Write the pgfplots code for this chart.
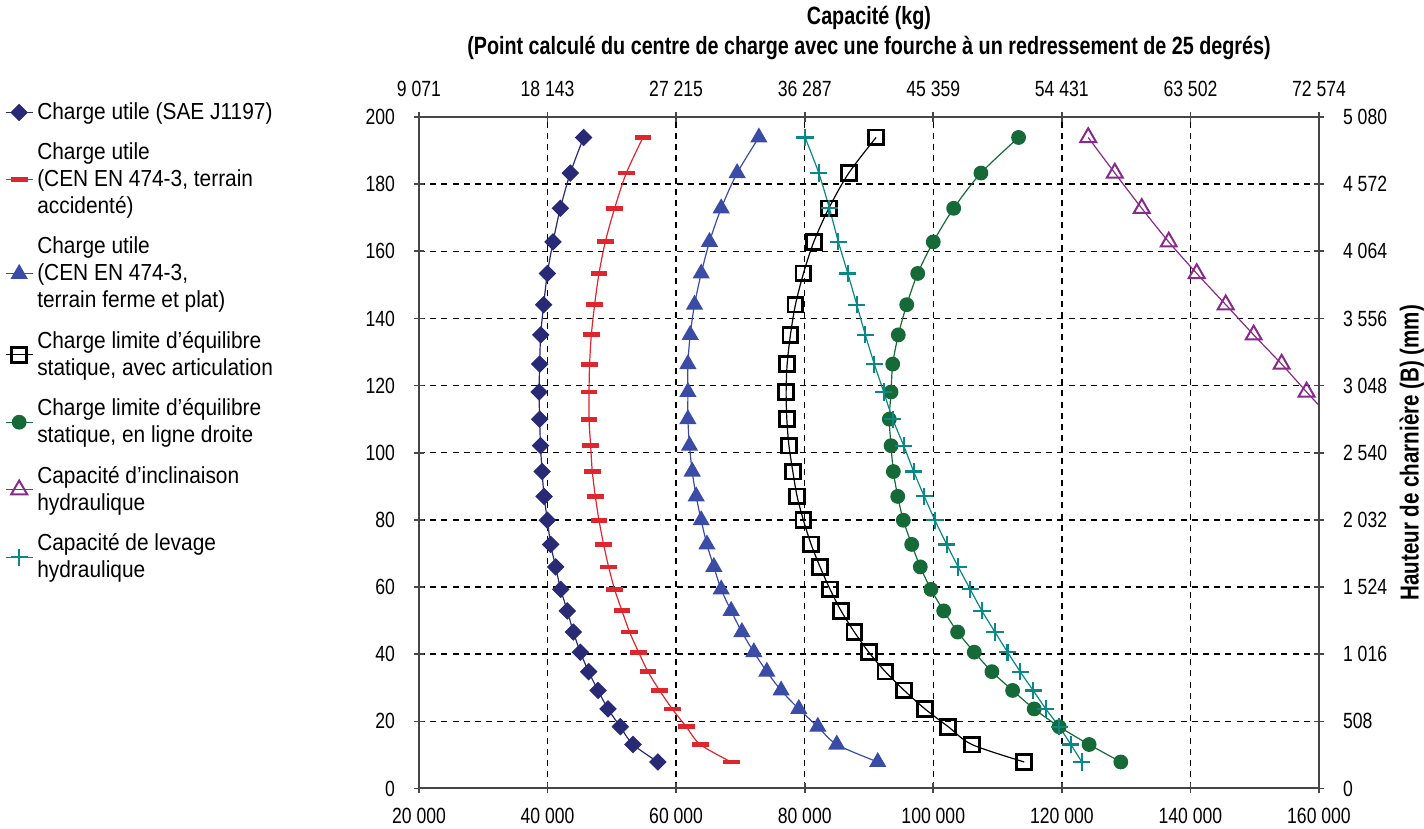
\documentclass[border=0pt]{standalone}
\usepackage{pgfplots}
\pgfplotsset{compat=1.18}
\usepackage{pgfplotstable}
\usepackage{fontspec}
\setmainfont{Liberation Sans}
\newfontfamily\legfont[FakeStretch=0.9]{Liberation Sans}
\newfontfamily\condfont[FakeStretch=0.8]{Liberation Sans}
\newfontfamily\titlefont[FakeStretch=0.79]{Liberation Sans}

\definecolor{sNavy}{RGB}{40,42,118}
\definecolor{sRed}{RGB}{222,38,46}
\definecolor{sBlue}{RGB}{58,76,166}
\definecolor{sGreen}{RGB}{22,106,56}
\definecolor{sPurple}{RGB}{136,42,138}
\definecolor{sTeal}{RGB}{10,136,136}
\definecolor{axgray}{RGB}{70,70,70}

% y = hauteur de charniere (po), a..g = capacite (lb)
\pgfplotstableread{
y     a      b      c      d       e       g
193.9 45610  54840  72870  91100   113270  80060
183.3 43540  52250  69490  86850   107410  82190
172.8 41990  50430  67010  83750   103170  83840
162.8 40850  48980  65190  81410   100000  85240
153.4 39970  48000  63900  79800   97580   86700
144.1 39390  47320  62860  78560   95870   88100
135.1 38930  46810  62190  77780   94560   89430
126.4 38770  46540  61830  77270   93690   90830
118.1 38680  46450  61830  77110   93430   92290
110.0 38770  46450  61830  77220   93160   93690
102.1 38900  46700  62080  77550   93430   95400
94.4  39150  46960  62500  78150   93790   96950
87.0  39460  47430  63120  78820   94470   98600
79.9  39970  48000  63900  79800   95340   100260
72.7  40480  48720  64790  81000   96640   102080
66.0  41260  49500  65870  82390   97980   103880
59.3  42040  50430  67010  83950   99640   105750
52.9  43080  51580  68560  85660   101620  107570
46.6  44010  52760  70230  87720   103790  109590
40.6  45100  54160  72090  89960   106370  111560
34.8  46390  55620  74110  92540   109120  113520
29.2  47850  57420  76330  95490   112340  115540
23.7  49400  59390  79080  98710   115700  117510
18.4  51310  61570  82040  102330  119580  119580
13.1  53290  63750  84990  106010  124240  121400
7.9   57170  68560  91360  114140  129170  123110
}\datatab

\pgfplotstableread{
y     f
193.9 124100
183.3 128240
172.8 132430
162.8 136630
153.4 140980
144.1 145490
135.1 149840
126.4 154190
118.1 158070
110.0 162000
}\purpletab

\begin{document}
\begin{tikzpicture}
\useasboundingbox (-209.5pt,-20.25pt) rectangle (502.5pt,394.25pt);
\begin{axis}[
  scale only axis, width=450pt, height=335.75pt,
  xmin=20000, xmax=160000, ymin=0, ymax=200,
  scaled x ticks=false, scaled y ticks=false,
  xtick={20000,40000,...,160000}, ytick={0,20,...,200},
  xticklabels={20 000,40 000,60 000,80 000,100 000,120 000,140 000,160 000},
  yticklabels={0,20,40,60,80,100,120,140,160,180,200},
  xtick pos=bottom, ytick pos=left,
  tick label style={font=\condfont\fontsize{11}{13}\selectfont, black},
  xticklabel style={yshift=-4pt},
  yticklabel style={xshift=-6pt},
  grid=major,
  grid style={black, line width=0.7pt, dash pattern=on 3pt off 2.6pt},
  axis line style={axgray, line width=1pt},
  tick align=center, major tick length=5pt,
  tick style={axgray, line width=0.8pt},
  legend style={at={(-0.467,1.034)}, anchor=north west, draw=none, fill=none,
    font=\legfont\fontsize{11.6}{13.5}\selectfont,
    row sep=6.2pt, cells={anchor=west, align=left},
    /tikz/every even column/.append style={column sep=1pt}},
  legend image code/.code={\draw[mark repeat=2,mark phase=2] plot coordinates {(0pt,0pt) (6.75pt,0pt) (13.5pt,0pt)};},
]
\addplot[sNavy, line width=0.6pt, smooth, mark=square*, mark size=2.8pt,
  mark options={rotate=45, fill=sNavy}] table[x=a, y=y] {\datatab};
\addlegendentry{Charge utile (SAE J1197)}
\addplot[sRed, line width=0.6pt, smooth, mark=-, mark size=4.2pt,
  mark options={line width=2.4pt}] table[x=b, y=y] {\datatab};
\addlegendentry{Charge utile\\(CEN EN 474-3, terrain\\accidenté)}
\addplot[sBlue, line width=0.6pt, smooth, mark=triangle*, mark size=4.4pt,
  mark options={fill=sBlue}] table[x=c, y=y] {\datatab};
\addlegendentry{Charge utile\\(CEN EN 474-3,\\terrain ferme et plat)}
\addplot[black, line width=0.6pt, smooth, mark=square, mark size=3.7pt,
  mark options={line width=1.4pt}] table[x=d, y=y] {\datatab};
\addlegendentry{Charge limite d’équilibre\\statique, avec articulation}
\addplot[sGreen, line width=0.6pt, smooth, mark=*, mark size=3.4pt,
  mark options={fill=sGreen}] table[x=e, y=y] {\datatab};
\addlegendentry{Charge limite d’équilibre\\statique, en ligne droite}
\addplot[sPurple, line width=0.6pt, smooth, mark=triangle, mark size=4.6pt,
  mark options={line width=1pt}] table[x=f, y=y] {\purpletab};
\addlegendentry{Capacité d’inclinaison\\hydraulique}
\addplot[sTeal, line width=0.6pt, smooth, mark=+, mark size=4.3pt,
  mark options={line width=1.1pt}] table[x=g, y=y] {\datatab};
\addlegendentry{Capacité de levage\\hydraulique}
\end{axis}
\begin{axis}[
  scale only axis, width=450pt, height=335.75pt,
  xmin=20000, xmax=160000, ymin=0, ymax=200,
  scaled x ticks=false, scaled y ticks=false,
  axis x line*=top, axis y line*=right,
  xtick={20000,40000,...,160000},
  xticklabels={9 071,18 143,27 215,36 287,45 359,54 431,63 502,72 574},
  ytick={0,20,...,200},
  yticklabels={0,508,1 016,1 524,2 032,2 540,3 048,3 556,4 064,4 572,5 080},
  tick label style={font=\condfont\fontsize{11}{13}\selectfont, black},
  xticklabel style={yshift=4pt},
  yticklabel style={xshift=6pt},
  axis line style={axgray, line width=1pt},
  tick align=center, major tick length=5pt,
  tick style={axgray, line width=0.8pt},
  ylabel={Hauteur de charnière (B) (mm)},
  ylabel style={at={(axis description cs:1.103,0.5)}, anchor=center,
    font=\titlefont\bfseries\fontsize{13}{15}\selectfont},
  clip=false,
]
\node[font=\titlefont\bfseries\fontsize{12.5}{14}\selectfont] at (axis description cs:0.5,1.147) {Capacité (kg)};
\node[font=\titlefont\bfseries\fontsize{12.5}{14}\selectfont] at (axis description cs:0.5,1.103) {(Point calculé du centre de charge avec une fourche à un redressement de 25 degrés)};
\end{axis}
\end{tikzpicture}
\end{document}
